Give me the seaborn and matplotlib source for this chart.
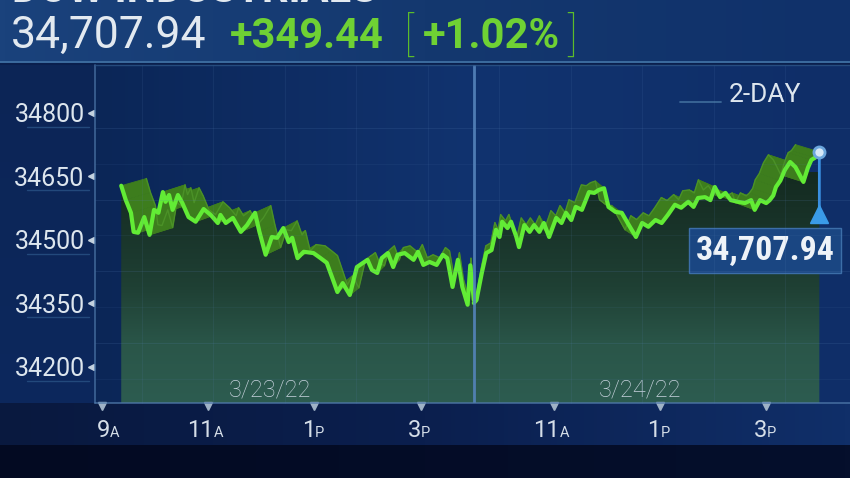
import numpy as np
import pandas as pd
import seaborn as sns
import matplotlib.pyplot as plt
import matplotlib.transforms as mtransforms
from matplotlib import font_manager
from matplotlib.collections import PolyCollection
from matplotlib.colors import LinearSegmentedColormap
from matplotlib.patches import Polygon

# --- data (3/23/22 - 3/24/22) ---
dates = ['3/23/22', '3/24/22']
# minutes after 9:00 AM on each day
day1_min = [22, 27, 33, 36, 41, 48, 54, 59, 64, 69, 72, 76, 80, 86, 91, 98, 106, 115, 123, 131,
            134, 140, 148, 157, 164, 173, 178, 185, 192, 198, 205, 211, 215, 221, 228, 239, 247, 254, 261, 266,
            272, 280, 288, 295, 300, 305, 311, 316, 323, 329, 334, 342, 352, 357, 363, 370, 378, 385, 390, 396,
            402, 407, 413, 416, 420]
day1_price = [34628, 34595, 34564, 34519, 34517, 34554, 34512, 34571, 34564, 34613, 34590, 34606, 34571, 34606, 34587,
              34554, 34543, 34573, 34559, 34540, 34559, 34540, 34552, 34519, 34535, 34564, 34519, 34465, 34507, 34505,
              34528, 34495, 34505, 34457, 34472, 34469, 34457, 34446, 34406, 34377, 34398, 34370, 34436, 34446, 34453,
              34429, 34422, 34457, 34469, 34436, 34465, 34469, 34453, 34472, 34441, 34448, 34441, 34465, 34457, 34389,
              34453, 34389, 34347, 34440, 34358]
day2_min = [30, 33, 39, 44, 50, 55, 59, 62, 68, 72, 78, 81, 87, 93, 98, 104, 109, 115, 123, 129,
            134, 140, 145, 152, 160, 166, 171, 177, 182, 190, 197, 205, 213, 220, 227, 235, 242, 249, 257, 264,
            272, 278, 283, 291, 297, 302, 308, 314, 320, 328, 336, 343, 347, 353, 360, 364, 368, 371, 376, 381,
            387, 393, 402, 407, 411, 415, 420]
day2_price = [34351, 34358, 34422, 34469, 34476, 34524, 34507, 34543, 34528, 34543, 34507, 34483, 34535, 34519, 34535,
              34519, 34540, 34507, 34552, 34540, 34564, 34547, 34578, 34571, 34613, 34611, 34618, 34622, 34578, 34566,
              34564, 34535, 34507, 34540, 34531, 34547, 34540, 34559, 34583, 34576, 34590, 34578, 34599, 34601, 34594,
              34625, 34601, 34611, 34594, 34590, 34587, 34594, 34571, 34594, 34587, 34594, 34605, 34625, 34640, 34665,
              34684, 34672, 34637, 34670, 34689, 34694, 34707.94]
last_price = 34707.94
net_change = 349.44
pct_change = 1.02
y_ticks = [34200, 34350, 34500, 34650, 34800]
day1_ticks = [0, 120, 240, 360]
day2_ticks = [120, 240, 360]
tick_hours = ['9', '11', '1', '3']
tick_ampm = ['A', 'A', 'P', 'P']
date_label_min = [190, 218]

DAY2_OFFSET = 390  # 9:30 on day 2 sits where 16:00 of day 1 ends

df = pd.DataFrame({
    'pos': day1_min + [m + DAY2_OFFSET for m in day2_min],
    'price': day1_price + day2_price,
    'day': [dates[0]] * len(day1_min) + [dates[1]] * len(day2_min),
})

sns.set_theme(style='white')
plt.rcParams['font.family'] = ['Roboto', 'DejaVu Sans']

avail = {f.name for f in font_manager.fontManager.ttflist}
if 'Roboto Condensed' in avail:
    box_font, box_size = 'Roboto Condensed', 24.5
elif 'Liberation Sans Narrow' in avail:
    box_font, box_size = 'Liberation Sans Narrow', 24.5
else:
    box_font, box_size = 'Roboto', 20

TEXT = '#dde6ee'
GREEN_TXT = '#6fd134'
LINE = '#62ec35'
RIBBON = '#3d7d1d'

W, H = 850, 478
fig = plt.figure(figsize=(8.5, 4.78), dpi=100)


def paint(axis, x0, x1, y0, y1, colors, horizontal=False, **kw):
    cmap = LinearSegmentedColormap.from_list('', colors)
    g = np.linspace(0, 1, 256)
    g = g.reshape(1, -1) if horizontal else g.reshape(-1, 1)
    return axis.imshow(g, cmap=cmap, extent=(x0, x1, y1, y0), aspect='auto',
                       interpolation='bicubic', **kw)


# background canvas in pixel coordinates
bg = fig.add_axes([0, 0, 1, 1], zorder=0)
paint(bg, 0, W, 0, 62, ['#1a427c', '#14386f', '#10316a'], horizontal=True)
paint(bg, 0, W, 62, 65, ['#0a1f4e', '#0a1f4e'])
paint(bg, 0, 95, 65, 403, ['#0c2556', '#0d285d'])
paint(bg, 95, W, 65, 403, ['#0b2657', '#11336f', '#0f2e68'], horizontal=True)
paint(bg, 0, W, 403, 445, ['#09193f', '#0b1f4e', '#102f69'], horizontal=True)
paint(bg, 0, W, 445, H, ['#030a22', '#050f2c'], horizontal=True)
bg.plot([0, W], [62, 62], color='#3c6c9f', lw=1.4)
bg.set_xlim(0, W)
bg.set_ylim(H, 0)
bg.axis('off')

# header (the title row is mostly cut off at the top edge, as in the source)
bg.text(12, 1.5, 'DOW INDUSTRIALS', fontsize=30, weight='bold', color='#e2e9f0', va='baseline')
bg.text(11, 48, f'{last_price:,.2f}', fontsize=32, color='#e2e9f0', va='baseline')
bg.text(230, 48, f'+{net_change:.2f}', fontsize=30, weight='bold', color=GREEN_TXT, va='baseline')
bg.text(404, 50, '[', fontsize=33, weight='light', color='#5cbc2a', va='baseline')
bg.text(423, 48, f'+{pct_change:.2f}%', fontsize=30, weight='bold', color=GREEN_TXT, va='baseline')
bg.text(567, 50, ']', fontsize=33, weight='light', color='#5cbc2a', va='baseline')
bg.text(729, 102, '2-DAY', fontsize=19, color=TEXT, va='baseline')
bg.plot([680, 721], [102, 102], color='#3c6898', lw=1.3)

# main chart axes
ax = fig.add_axes([95 / W, (H - 403) / H, (W - 95) / W, (403 - 65) / H], zorder=2)
ax.patch.set_alpha(0)
xmin, xmax = -7.6, 844.6
ybot, ytop = 34115, 34913

# shaded area under the price line
pts = list(zip(df['pos'], df['price']))
area = Polygon([(pts[0][0], ybot)] + pts + [(pts[-1][0], ybot)], closed=True,
               facecolor='none', edgecolor='none')
ax.add_patch(area)
shade = paint(ax, pts[0][0], pts[-1][0], 34660, ybot,
              ['#142a20', '#19342a', '#1f4034', '#2a5649', '#2d5c50'], zorder=1)
shade.set_clip_path(area)

# extruded "ribbon" behind the line
k, xc, dy = 0.07, 427, 17
for _, g in df.groupby('day'):
    x = g['pos'].to_numpy(float)
    y = g['price'].to_numpy(float)
    xb = x + k * (xc - x)
    yb = y + dy
    quads = [[(x[i], y[i]), (x[i + 1], y[i + 1]), (xb[i + 1], yb[i + 1]), (xb[i], yb[i])]
             for i in range(len(x) - 1)]
    ax.add_collection(PolyCollection(quads, facecolor=RIBBON, edgecolor=RIBBON, lw=0.6, zorder=3))
    ax.plot(xb, yb, color='#4b9127', lw=1.0, zorder=3)

sns.lineplot(data=df, x='pos', y='price', units='day', estimator=None, color=LINE,
             lw=3, ax=ax, zorder=4, legend=False)

# last value marker, stem and price box
x_last, y_last = df['pos'].iloc[-1], df['price'].iloc[-1]
ax.annotate('', xy=(x_last, y_last), xytext=(0, -43), textcoords='offset points',
            arrowprops=dict(arrowstyle='-', color='#3a8fe0', lw=2), zorder=5)
tri = mtransforms.offset_copy(ax.transData, fig=fig, x=0, y=-45, units='points')
ax.plot([x_last], [y_last], marker='^', ms=13, color='#3a9be8', transform=tri,
        clip_on=False, zorder=5)
ax.plot([x_last], [y_last], marker='o', ms=8, mfc='#d6e8f7', mec='#6ba6dc', mew=2, zorder=6)
ax.annotate(f'{last_price:,.2f}', xy=(x_last, y_last), xytext=(-39, -71),
            textcoords='offset points', ha='center', va='center', fontsize=box_size,
            weight='bold', family=box_font, color='#eef3f8', zorder=6,
            bbox=dict(boxstyle='square,pad=0.2', fc='#1a4682', ec='#3c6ea8', lw=1))

# axis ticks / labels
ax.set_xlim(xmin, xmax)
ax.set_ylim(ybot, ytop)
ax.set_yticks(y_ticks)
ax.set_yticklabels([str(t) for t in y_ticks])
ax.tick_params(axis='y', length=0, pad=7.5, labelsize=18, labelcolor=TEXT)
xt = day1_ticks + [t + DAY2_OFFSET for t in day2_ticks]
xt_hours = tick_hours + tick_hours[1:]
xt_ampm = tick_ampm + tick_ampm[1:]
ax.set_xticks(xt)
ax.set_xticklabels([''] * len(xt))
ax.tick_params(axis='x', length=0)
ax.set_xlabel('')
ax.set_ylabel('')
for s in ax.spines.values():
    s.set_visible(False)

xdata_yaxes = mtransforms.blended_transform_factory(ax.transData, ax.transAxes)
yaxes_xdata = mtransforms.blended_transform_factory(ax.transAxes, ax.transData)
ax.plot([-0.0055] * len(y_ticks), y_ticks, ls='', marker='<', ms=5, color='#c4d2df',
        transform=yaxes_xdata, clip_on=False)
for t in y_ticks:
    ul = mtransforms.offset_copy(yaxes_xdata, fig=fig, x=0, y=-10, units='points')
    ax.plot([-0.09, -0.008], [t, t], color='#23497c', lw=1, transform=ul, clip_on=False)

ax.plot(xt, [-0.01] * len(xt), ls='', marker='v', ms=6, color='#9fb2c6',
        transform=xdata_yaxes, clip_on=False)
for i, (p, h, ap) in enumerate(zip(xt, xt_hours, xt_ampm)):
    split = 6 if len(h) == 2 else 0.5
    if i == 0:
        split += 8
    ax.annotate(h, xy=(p, 0), xycoords=xdata_yaxes, xytext=(split * 0.72, -24.5),
                textcoords='offset points', ha='right', va='baseline', fontsize=17,
                color='#d5dee8', annotation_clip=False)
    ax.annotate(ap, xy=(p, 0), xycoords=xdata_yaxes, xytext=(split * 0.72, -24.5),
                textcoords='offset points', ha='left', va='baseline', fontsize=10.5,
                color='#d5dee8', annotation_clip=False)

for d, m in zip(dates, [date_label_min[0], date_label_min[1] + DAY2_OFFSET]):
    ax.text(m, 0.018, d, transform=xdata_yaxes, ha='center', va='baseline', fontsize=17,
            weight='light', color='#c8d3de', zorder=6)

# overlay: faint grid, panel borders and the day divider
ov = fig.add_axes([0, 0, 1, 1], zorder=3)
ov.patch.set_alpha(0)
for gx in np.arange(142, W, 71.5):
    ov.plot([gx, gx], [65, 403], color='#5a82b8', lw=0.7, alpha=0.12)
for i, gy in enumerate(np.arange(128, 403, 35.8)):
    ov.plot([95, W], [gy, gy], color='#5a82b8', lw=0.7, alpha=0.16 if i % 2 == 0 else 0.09)
ov.plot([95, 95], [65, 403], color='#4a73a5', lw=1.2, alpha=0.8)
ov.plot([95, W], [403, 403], color='#4f79aa', lw=1.2, alpha=0.8)
ov.plot([95, W], [65, 65], color='#2c5486', lw=1, alpha=0.8)
ov.set_xlim(0, W)
ov.set_ylim(H, 0)
ov.axis('off')
ax.axvline(420, color='#5584bb', lw=2, alpha=0.9, zorder=7)

fig.savefig('out.png', dpi=100)
